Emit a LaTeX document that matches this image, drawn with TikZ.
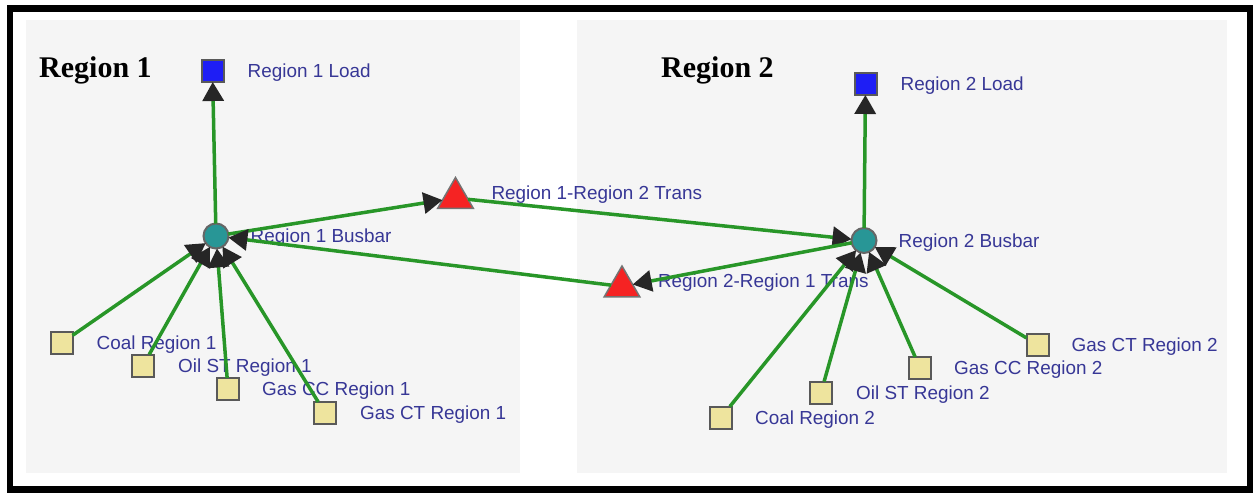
\documentclass[tikz,border=0pt]{standalone}
\usepackage{fontspec}
\setmainfont{Liberation Sans}
\newfontfamily\titlefont{Liberation Serif}
\usetikzlibrary{positioning, shapes.geometric, arrows.meta}
\definecolor{panelgray}{RGB}{245,245,245}
\definecolor{linkgreen}{RGB}{40,150,40}
\definecolor{lblblue}{RGB}{55,55,150}
\definecolor{genyellow}{RGB}{238,228,158}
\definecolor{loadblue}{RGB}{30,30,245}
\definecolor{busteal}{RGB}{40,150,150}
\definecolor{transred}{RGB}{245,35,35}
\tikzstyle{panel}=[fill=panelgray]
\tikzstyle{gen}=[rectangle, draw=black!65, line width=2pt, fill=genyellow, minimum size=22pt, inner sep=0pt, outer sep=0pt]
\tikzstyle{load}=[gen, fill=loadblue]
\tikzstyle{bus}=[circle, draw=black!60, line width=2pt, fill=busteal, minimum size=25pt, inner sep=0pt, outer sep=0pt]
\tikzstyle{trans}=[regular polygon, regular polygon sides=3, draw=black!55, line width=1.5pt, fill=transred, minimum size=41pt, inner sep=0pt, outer sep=0pt]
\tikzstyle{lbl}=[font=\fontsize{18.9}{20}\selectfont, text=lblblue, inner sep=0pt, text height=13.5pt, text depth=0pt]
\tikzstyle{regiontitle}=[font=\titlefont\bfseries\fontsize{30}{34}\selectfont, inner sep=0pt, anchor=base west]
\tikzstyle{link}=[draw=linkgreen, line width=3.5pt, -{Triangle[length=19pt, width=21pt, color=black!85]}]

\begin{document}
\begin{tikzpicture}[x=1pt, y=-1pt]
				\useasboundingbox (0,0) rectangle (1254,493);
				% frame and the two region panels
				\draw[line width=6.5pt] (10,8.5) rectangle (1250,489.5);
				\fill[panel] (26,20) rectangle (520,473);
				\fill[panel] (577,20) rectangle (1227,473);

				\node[regiontitle] (title1) at (39,77) {Region 1};
				\node[regiontitle] (title2) at (661,77) {Region 2};

				% Region 1
				\node[load] (load1) at (212.5,71) {};
				\node[bus] (bus1) at (216,236) {};
				\node[gen] (coal1) at (61.5,343) {};
				\node[gen] (oil1) at (143,365.5) {};
				\node[gen] (gascc1) at (228,389) {};
				\node[gen] (gasct1) at (325,413) {};

				% Region 2
				\node[load] (load2) at (865.5,84) {};
				\node[bus] (bus2) at (864,240.5) {};
				\node[gen] (coal2) at (721,417.5) {};
				\node[gen] (oil2) at (821,392.5) {};
				\node[gen] (gascc2) at (920,368) {};
				\node[gen] (gasct2) at (1037.5,344.5) {};

				% interconnection
				\node[trans] (t12) at (455.5,198) {};
				\node[trans] (t21) at (622,286.5) {};

				\node[lbl, right=24pt of load1] {Region 1 Load};
				\node[lbl, right=22pt of bus1] {Region 1 Busbar};
				\node[lbl, right=24pt of coal1] {Coal Region 1};
				\node[lbl, right=24pt of oil1] {Oil ST Region 1};
				\node[lbl, right=23pt of gascc1] {Gas CC Region 1};
				\node[lbl, right=24pt of gasct1] {Gas CT Region 1};
				\node[lbl, right=24pt of load2] {Region 2 Load};
				\node[lbl, right=22pt of bus2] {Region 2 Busbar};
				\node[lbl, right=23pt of coal2] {Coal Region 2};
				\node[lbl, right=24pt of oil2] {Oil ST Region 2};
				\node[lbl, right=23pt of gascc2] {Gas CC Region 2};
				\node[lbl, right=23pt of gasct2] {Gas CT Region 2};
				\node[lbl, right=24pt of t12, yshift=5.5pt] {Region 1-Region 2 Trans};
				\node[lbl, right=24pt of t21, yshift=5.5pt] {Region 2-Region 1 Trans};

				\foreach \g in {coal1, oil1, gascc1, gasct1}{ \draw[link] (\g) -- (bus1); }
				\foreach \g in {coal2, oil2, gascc2, gasct2}{ \draw[link] (\g) -- (bus2); }
				\draw[link] (bus1) -- (load1);
				\draw[link] (bus2) -- (load2);
				\draw[link] (bus1) -- (t12);
				\draw[link] (t12) -- (bus2);
				\draw[link] (bus2) -- (t21);
				\draw[link] (t21) -- (bus1);
			\end{tikzpicture}
\end{document}
